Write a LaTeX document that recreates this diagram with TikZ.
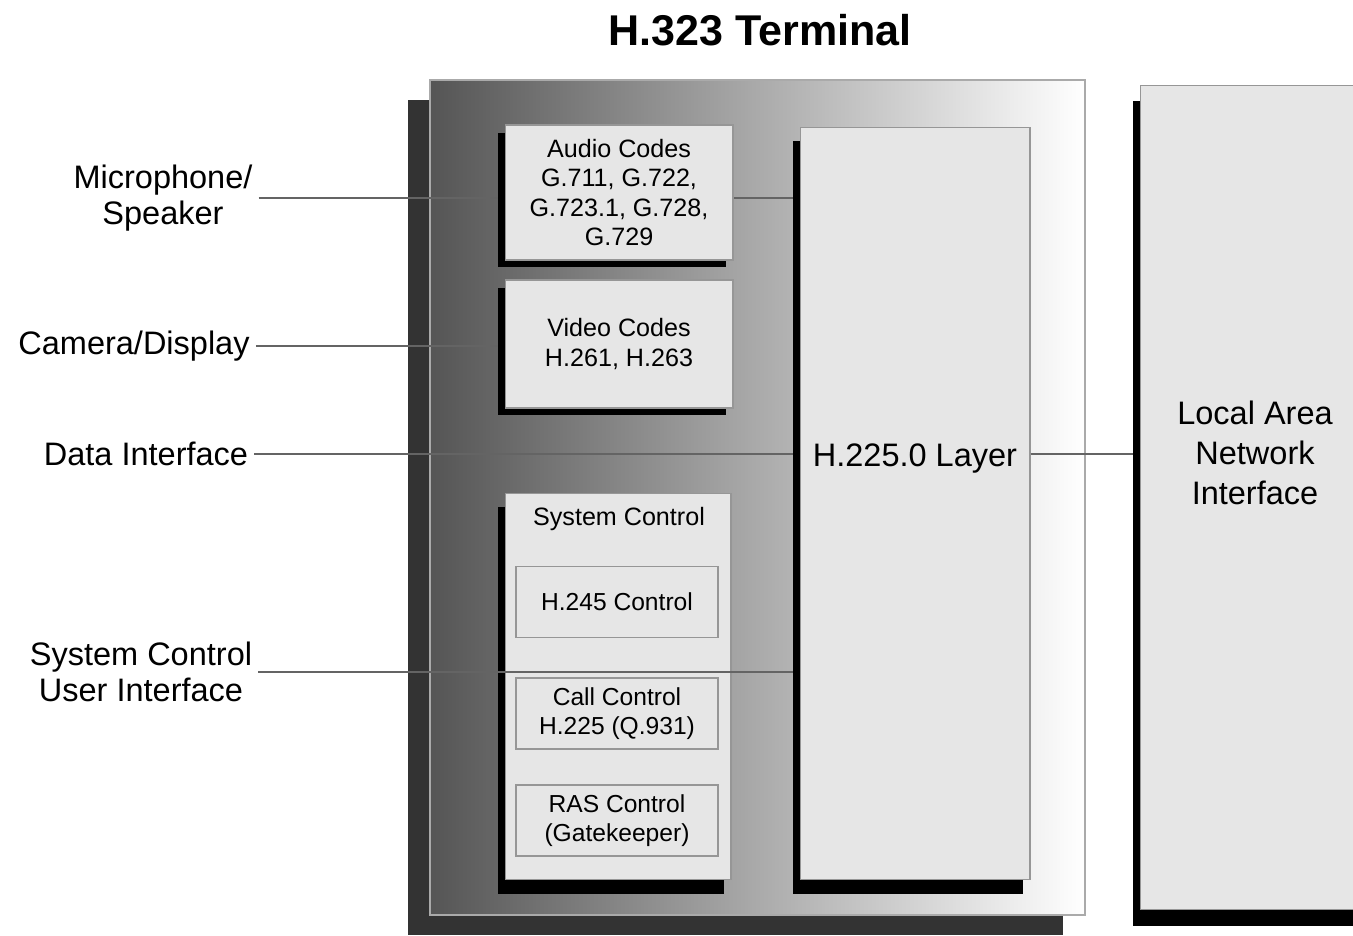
\documentclass[tikz,border=0pt]{standalone}
\usepackage{fontspec}
\setmainfont{Liberation Sans}
\usetikzlibrary{shadows}
\usetikzlibrary{positioning}
\definecolor{box-gray}{RGB}{230, 230, 230}
\definecolor{edge-gray}{RGB}{150, 150, 150}
\definecolor{frame-gray}{RGB}{170, 170, 170}
\definecolor{line-gray}{RGB}{100, 100, 100}
\definecolor{shade-dark}{RGB}{85, 85, 85}
\definecolor{shadow-dark}{RGB}{51, 51, 51}
\begin{document}
\begin{tikzpicture}[x=0.02cm, y=-0.02cm,
    blackshadow/.style={drop shadow={shadow xshift=-0.14cm, shadow yshift=#1, fill=black, opacity=1}},
    codebox/.style={draw=edge-gray, fill=box-gray, line width=0.6pt, inner sep=0pt, align=center, font=\fontsize{14.3}{16.6}\selectfont},
    subbox/.style={draw=edge-gray, fill=box-gray, line width=0.8pt, inner sep=0pt, align=center, minimum width=4.04cm, minimum height=1.42cm, font=\fontsize{14}{16.6}\selectfont},
    bigtext/.style={align=center, font=\fontsize{18.5}{22.7}\selectfont},
    portlabel/.style={align=center, font=\fontsize{18.5}{20.4}\selectfont},
    link/.style={draw=line-gray, line width=1pt, shorten >=0.14cm}]
\clip (0,0) rectangle (1353,936);
\node[draw=frame-gray, line width=0.8pt, left color=shade-dark, right color=white, minimum width=13.1cm, minimum height=16.7cm, inner sep=0pt,
      drop shadow={shadow xshift=-0.44cm, shadow yshift=-0.4cm, fill=shadow-dark, opacity=1}] (terminal) at (757.5,497.5) {};
\node[font=\fontsize{24.5}{28}\selectfont\bfseries, above=0.55cm of terminal, xshift=0.05cm] (title) {H.323 Terminal};
\node[codebox, blackshadow=-0.32cm, minimum width=4.6cm, minimum height=16.5cm] (lan) at (1255,497.5) {};
\node[bigtext] (lantext) at (1255,453) {Local Area\\Network\\Interface};
\node[codebox, blackshadow=-0.28cm, minimum width=4.6cm, minimum height=15.06cm] (h225) at (915,503.5) {};
\node[bigtext] (h225text) at (915,459) {H.225.0 Layer};
\node[portlabel] (mic) at (163,198) {Microphone/\\Speaker};
\node[portlabel] (cam) at (134,346) {Camera/Display};
\node[portlabel] (data) at (146,454) {Data Interface};
\node[portlabel] (sysui) at (141,672) {System Control\\User Interface};
\draw[link] (mic.east) -- (mic.east -| h225.west);
\node[codebox, blackshadow=-0.15cm, minimum width=4.56cm, minimum height=2.7cm] (audio) at (619,192.5) {Audio Codes\\G.711, G.722,\\G.723.1, G.728,\\G.729};
\node[codebox, blackshadow=-0.15cm, minimum width=4.56cm, minimum height=2.56cm] (video) at (619,344) {Video Codes\\H.261, H.263};
\node[codebox, blackshadow=-0.28cm, minimum width=4.52cm, minimum height=7.74cm] (sysctl) at (618,686.5) {};
\node[font=\fontsize{14.3}{16.6}\selectfont] (systitle) at (619,519) {System Control};
\node[subbox] (h245) at (617,602) {H.245 Control};
\node[subbox] (call) at (617,713.5) {Call Control\\H.225 (Q.931)};
\node[subbox] (ras) at (617,820.5) {RAS Control\\(Gatekeeper)};
\draw[link] (cam.east) -- (cam.east -| video.west);
\draw[link] (data.east) -- (data.east -| h225.west);
\draw[link] (sysui.east) -- (sysui.east -| h225.west);
\draw[link] (data.east -| h225.east) -- (data.east -| lan.west);
\end{tikzpicture}
\end{document}
